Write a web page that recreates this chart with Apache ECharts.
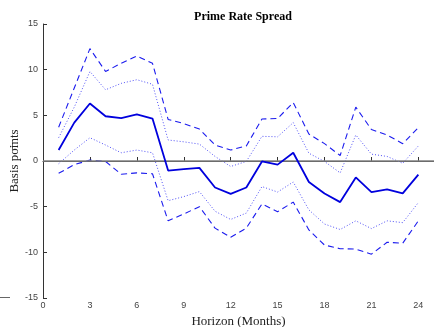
<!DOCTYPE html>
<html><head><meta charset="utf-8">
<script src="https://cdn.jsdelivr.net/npm/echarts@6/dist/echarts.min.js"></script>
<style>html,body{margin:0;padding:0;background:#fff}#c{width:434px;height:327px}</style>
</head><body><div id="c"></div>
<script>
const months = [1,2,3,4,5,6,7,8,9,10,11,12,13,14,15,16,17,18,19,20,21,22,23,24];
const xTicks = [0,3,6,9,12,15,18,21,24];
const yTicks = [-15,-10,-5,0,5,10,15];
const estimate = [1.2,4.2,6.3,4.9,4.7,5.1,4.65,-1.05,-0.9,-0.75,-2.9,-3.6,-2.9,-0.05,-0.4,0.9,-2.3,-3.55,-4.5,-1.8,-3.4,-3.1,-3.55,-1.5];
const upper90 = [3.7,8.0,12.3,9.8,10.7,11.5,10.7,4.55,4.1,3.5,1.75,1.2,1.65,4.6,4.65,6.4,2.95,1.9,0.6,5.9,3.45,2.85,1.9,3.65];
const upper68 = [2.55,5.9,9.8,7.8,8.5,8.9,8.4,2.3,2.1,1.85,0.5,-0.6,-0.05,2.7,2.65,4.2,0.85,-0.05,-1.3,2.85,0.75,0.5,-0.25,1.65];
const lower68 = [-0.3,1.2,2.55,1.75,0.9,1.2,0.9,-4.35,-3.9,-3.35,-5.5,-6.4,-5.7,-2.8,-3.4,-2.3,-5.35,-6.9,-7.5,-6.55,-7.4,-6.55,-6.75,-4.55];
const lower90 = [-1.35,-0.4,0.1,-0.05,-1.45,-1.3,-1.4,-6.55,-5.8,-5.0,-7.35,-8.35,-7.35,-4.7,-5.55,-4.5,-7.55,-9.2,-9.6,-9.65,-10.2,-8.9,-9.0,-6.55];
const title = 'Prime Rate Spread';
const xName = 'Horizon (Months)';
const yName = 'Basis points';

const pair = arr => months.map((m,i)=>[m,arr[i]]);
const chart = echarts.init(document.getElementById('c'));
const base = {type:'line', symbol:'none', silent:true, animation:false};
chart.setOption({
  animation:false,
  title:{text:title, left:238, textAlign:'center', top:6,
    textStyle:{fontFamily:'Liberation Serif', fontWeight:'bold', fontSize:12, color:'#000'}},
  grid:{left:43, right:0, top:24, bottom:29, containLabel:false, outerBoundsMode:'none'},
  xAxis:{type:'value', min:0, max:25, interval:3,
    name:xName, nameLocation:'middle', nameGap:17, nameMoveOverlap:false,
    nameTextStyle:{fontFamily:'Liberation Serif', fontSize:13, color:'#222'},
    axisLine:{lineStyle:{color:'#333', width:1}},
    axisTick:{inside:true, length:4, lineStyle:{color:'#333'}},
    axisLabel:{showMaxLabel:false, fontFamily:'Liberation Sans', fontSize:9, color:'#444', margin:3,
      formatter:v=>xTicks.includes(v)?String(v):''},
    splitLine:{show:false}},
  yAxis:{type:'value', min:-15, max:15, interval:5,
    name:yName, nameLocation:'middle', nameGap:22, nameMoveOverlap:false,
    nameTextStyle:{fontFamily:'Liberation Serif', fontSize:13, color:'#222'},
    axisLine:{show:true, onZero:false, lineStyle:{color:'#333', width:1}},
    axisTick:{show:true, inside:true, length:4, lineStyle:{color:'#333'}},
    axisLabel:{fontFamily:'Liberation Sans', fontSize:9, color:'#444', margin:5,
      formatter:v=>yTicks.includes(v)?String(v):''},
    splitLine:{show:false}},
  series:[
    Object.assign({}, base, {data:pair(upper90), lineStyle:{color:'#1a1aee', width:1.1, type:[6,4]}}),
    Object.assign({}, base, {data:pair(lower90), lineStyle:{color:'#1a1aee', width:1.1, type:[6,4]}}),
    Object.assign({}, base, {data:pair(upper68), lineStyle:{color:'#5050f5', width:1, type:[1,2]}}),
    Object.assign({}, base, {data:pair(lower68), lineStyle:{color:'#5050f5', width:1, type:[1,2]}}),
    Object.assign({}, base, {data:pair(estimate), lineStyle:{color:'#0000dd', width:1.8}, z:5,
      markLine:{silent:true, symbol:'none', label:{show:false}, animation:false,
        lineStyle:{color:'#808080', type:'solid', width:1.5}, data:[{yAxis:0}]}})
  ],
  graphic:[
    {type:'line', shape:{x1:12.5,y1:143,x2:12.5,y2:150}, style:{stroke:'#666', lineWidth:1}},
    {type:'line', shape:{x1:0,y1:297.5,x2:10,y2:297.5}, style:{stroke:'#666', lineWidth:1}}
  ]
});
</script></body></html>
